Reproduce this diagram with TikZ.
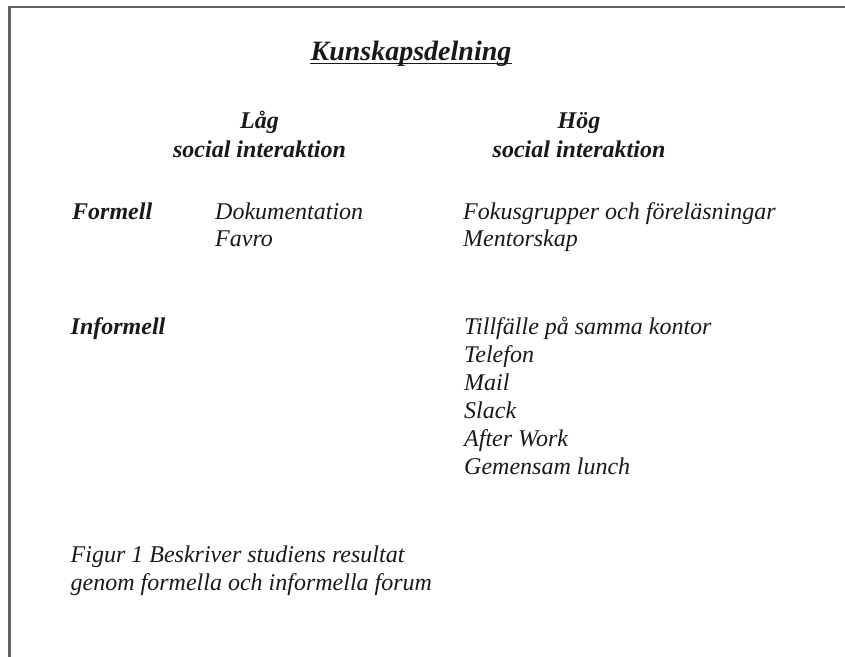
\documentclass[tikz,border=0pt]{standalone}
\usepackage{fontspec}
\setmainfont{Liberation Serif}
\begin{document}
\begin{tikzpicture}[x=1pt,y=-1pt,
  body/.style={anchor=base west, inner sep=0pt, text=black!90, font=\fontsize{24}{27.6}\selectfont\itshape},
  rowhead/.style={anchor=base west, inner sep=0pt, text=black!90, font=\fontsize{24}{27.6}\selectfont\bfseries\itshape},
  colhead/.style={anchor=base, inner sep=0pt, text=black!90, font=\fontsize{24}{27.6}\selectfont\bfseries\itshape},
  titlestyle/.style={anchor=base, inner sep=0pt, text=black!90, font=\fontsize{28}{32}\selectfont\bfseries\itshape},
  frame/.style={draw=black!62, line width=2.4pt}
]
\useasboundingbox (0,0) rectangle (845,656);
\draw[frame] (9.5,660) -- (9.5,7) -- (850,7);

\node[titlestyle] (title) at (411,60) {Kunskapsdelning};
\draw[black!90, line width=1.4pt] ([yshift=-3.6pt]title.base west) -- ([yshift=-3.6pt]title.base east);

\node[colhead] (lag) at (259.5,128.5) {Låg};
\node[colhead] (lagsi) at (259.5,157) {social interaktion};
\node[colhead] (hog) at (579,128.5) {Hög};
\node[colhead] (hogsi) at (579,157) {social interaktion};

\node[rowhead] (formell) at (72,219) {Formell};
\node[body] (dok) at (215,219) {Dokumentation};
\node[body] (favro) at (215,246.5) {Favro};
\node[body] (fokus) at (463,219) {Fokusgrupper och föreläsningar};
\node[body] (mentor) at (463,246.5) {Mentorskap};

\node[rowhead] (informell) at (70.5,334) {Informell};
\node[body] (i1) at (464,334.5) {Tillfälle på samma kontor};
\node[body] (i2) at (464,362.5) {Telefon};
\node[body] (i3) at (464,390.5) {Mail};
\node[body] (i4) at (464,418.5) {Slack};
\node[body] (i5) at (464,446.5) {After Work};
\node[body] (i6) at (464,474.5) {Gemensam lunch};

\node[body] (cap1) at (70.5,562) {Figur 1 Beskriver studiens resultat};
\node[body] (cap2) at (70.5,590) {genom formella och informella forum};
\end{tikzpicture}
\end{document}
